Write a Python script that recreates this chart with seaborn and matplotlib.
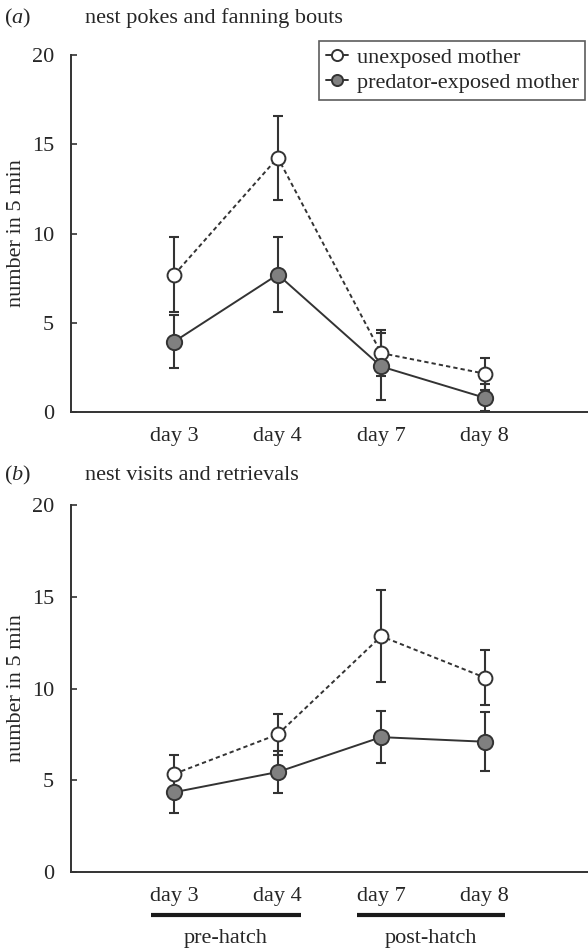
import matplotlib
matplotlib.use("Agg")
import matplotlib.pyplot as plt
import matplotlib.transforms as mtransforms
import seaborn as sns
import numpy as np
import pandas as pd

# ---------------- data ----------------
days = ["day 3", "day 4", "day 7", "day 8"]
groups = ["unexposed mother", "predator-exposed mother"]

# panel (a): nest pokes and fanning bouts
a_unexposed = [7.7, 14.25, 3.3, 2.15]
a_unexposed_se = [2.1, 2.35, 1.3, 0.9]
a_predator = [3.95, 7.7, 2.55, 0.8]
a_predator_se = [1.5, 2.1, 1.9, 0.75]

# panel (b): nest visits and retrievals
b_unexposed = [5.35, 7.5, 12.85, 10.6]
b_unexposed_se = [1.0, 1.1, 2.5, 1.5]
b_predator = [4.35, 5.45, 7.35, 7.1]
b_predator_se = [1.15, 1.15, 1.4, 1.6]

panel_titles = ["nest pokes and fanning bouts", "nest visits and retrievals"]
panel_letters = ["a", "b"]
yticks = [0, 5, 10, 15, 20]
ylabel = "number in 5 min"
phases = ["pre-hatch", "post-hatch"]

# ---------------- style ----------------
sns.set_style("white")
plt.rcParams["font.family"] = ["Liberation Serif", "DejaVu Serif"]
plt.rcParams["mathtext.fontset"] = "custom"
plt.rcParams["mathtext.it"] = "Liberation Serif:italic"
plt.rcParams["mathtext.rm"] = "Liberation Serif"
FS = 16
DARK = "#333333"
GREY = "#808080"

fig = plt.figure(figsize=(5.88, 9.5), dpi=100)
ax_a = fig.add_axes([0.1207, 0.5663, 0.8793, 0.3758])
ax_b = fig.add_axes([0.1207, 0.0821, 0.8793, 0.3863])

panels = [
    (ax_a, a_unexposed, a_unexposed_se, a_predator, a_predator_se),
    (ax_b, b_unexposed, b_unexposed_se, b_predator, b_predator_se),
]
title_offsets = [37, 30]  # pixels above the axes top

for i, (ax, un, un_se, pr, pr_se) in enumerate(panels):
    x = np.arange(len(days))
    df = pd.DataFrame({"x": np.concatenate([x, x]),
                       "y": un + pr,
                       "se": un_se + pr_se,
                       "group": [groups[0]] * 4 + [groups[1]] * 4})
    du = df[df.group == groups[0]]
    dp = df[df.group == groups[1]]

    # error bars
    for d in (dp, du):
        ax.errorbar(d["x"], d["y"], yerr=d["se"], fmt="none", ecolor=DARK,
                    elinewidth=1.5, capsize=3.3, capthick=1.5, zorder=2)

    sns.lineplot(data=du, x="x", y="y", ax=ax, color=DARK, lw=1.4,
                 linestyle=(0, (2.2, 1.6)), marker="o", markersize=10,
                 markerfacecolor="white", markeredgecolor=DARK,
                 markeredgewidth=1.4, label=groups[0], zorder=3,
                 errorbar=None)
    sns.lineplot(data=dp, x="x", y="y", ax=ax, color=DARK, lw=1.4,
                 linestyle="-", marker="o", markersize=11,
                 markerfacecolor=GREY, markeredgecolor=DARK,
                 markeredgewidth=1.4, label=groups[1], zorder=4,
                 errorbar=None)

    ax.set_xlim(-1, 4)
    ax.set_ylim(0, 20)
    ax.set_yticks(yticks)
    ax.set_yticklabels([str(t) for t in yticks], fontsize=FS)
    ax.set_xticks(x)
    ax.set_xticklabels(days, fontsize=FS)
    ax.set_xlabel("")
    ax.set_ylabel(ylabel, fontsize=FS, labelpad=4)
    ax.tick_params(axis="y", direction="in", length=4, width=1.2,
                   color=DARK, pad=12, left=True)
    ax.tick_params(axis="x", length=0, pad=11)
    sns.despine(ax=ax, top=True, right=True)
    for s in ("left", "bottom"):
        ax.spines[s].set_color(DARK)
        ax.spines[s].set_linewidth(1.4)

    off = mtransforms.offset_copy(ax.transAxes, fig=fig, x=0,
                                  y=title_offsets[i], units="dots")
    ax.text(-0.13, 1.0, "($\\it{" + panel_letters[i] + "}$)",
            transform=off, fontsize=FS, ha="left", va="center")
    ax.text(0.027, 1.0, panel_titles[i], transform=off,
            fontsize=FS, ha="left", va="center")

    if i == 0:
        leg = ax.legend(loc="upper right", bbox_to_anchor=(0.995, 1.04),
                        fontsize=FS, frameon=True, fancybox=False,
                        handlelength=1.0, handletextpad=0.4,
                        borderpad=0.3, labelspacing=0.2,
                        borderaxespad=0.0)
        leg.get_frame().set_edgecolor(DARK)
        leg.get_frame().set_linewidth(1.2)
        for h in leg.get_lines():
            h.set_linestyle("-")
            h.set_markersize(8)
    else:
        if ax.legend_:
            ax.legend_.remove()

# phase bars under panel (b)
trans = mtransforms.blended_transform_factory(ax_b.transData, ax_b.transAxes)
phase_spans = [(-0.23, 1.22), (1.77, 3.2)]
for (x0, x1), name in zip(phase_spans, phases):
    ax_b.plot([x0, x1], [-0.117, -0.117], transform=trans, color="#1a1a1a",
              lw=3, solid_capstyle="butt", clip_on=False)
    ax_b.text((x0 + x1) / 2, -0.18, name, transform=trans, fontsize=FS,
              ha="center", va="center")

fig.savefig("out.png", dpi=100)
